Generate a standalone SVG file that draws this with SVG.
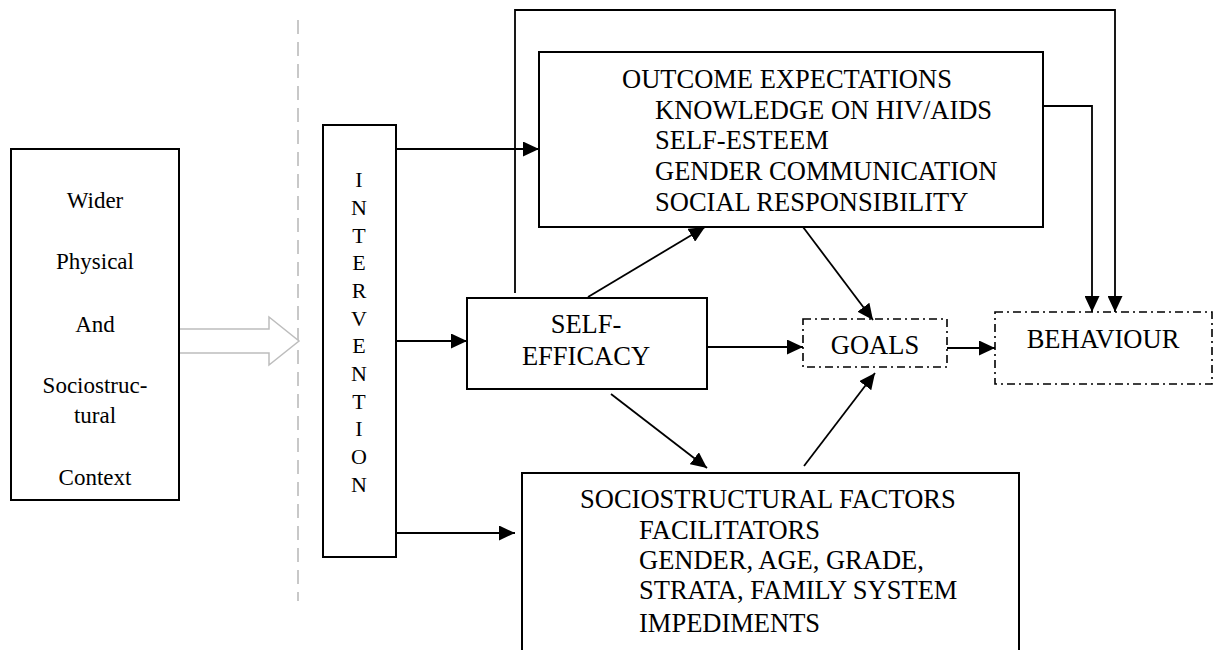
<svg xmlns="http://www.w3.org/2000/svg" width="1216" height="650" viewBox="0 0 1216 650">
<style>
  .box { fill: #ffffff; stroke: #000000; stroke-width: 2; }
  .dd { fill: #ffffff; stroke: #000000; stroke-width: 1.6; stroke-dasharray: 8 4 2 4; }
  .t { font-family: "Liberation Serif", "Times New Roman", serif; fill: #000000; }
  .big { font-size: 26.5px; }
  .mid { font-size: 23px; }
  .iv { font-size: 22px; }
  .line { fill: none; stroke: #000000; stroke-width: 1.8; }
  .arr { fill: none; stroke: #000000; stroke-width: 1.8; marker-end: url(#ah); }
</style>
<defs>
  <marker id="ah" markerUnits="userSpaceOnUse" markerWidth="17" markerHeight="15" refX="16" refY="7.5" orient="auto">
    <path d="M0,0 L16,7.5 L0,15 z" fill="#000000"/>
  </marker>
</defs>
<rect width="1216" height="650" fill="#ffffff"/>

<!-- separator and hollow arrow -->
<g id="separator">
  <line x1="298" y1="20" x2="298" y2="601" stroke="#c8c8c8" stroke-width="2" stroke-dasharray="14 8"/>
</g>
<g id="context-arrow">
  <path d="M179,329 L269,329 L269,317 L299,341 L269,365 L269,353 L179,353" fill="#ffffff" stroke="#bdbdbd" stroke-width="1.5"/>
</g>

<g id="context">
  <rect class="box" x="11" y="149" width="168" height="351"/>
  <text class="t mid" x="95" y="208" text-anchor="middle">Wider</text>
  <text class="t mid" x="95" y="269" text-anchor="middle">Physical</text>
  <text class="t mid" x="95" y="332" text-anchor="middle">And</text>
  <text class="t mid" x="95" y="393" text-anchor="middle">Sociostruc-</text>
  <text class="t mid" x="95" y="423" text-anchor="middle">tural</text>
  <text class="t mid" x="95" y="485" text-anchor="middle">Context</text>
</g>

<g id="intervention">
  <rect class="box" x="323" y="125" width="73" height="432"/>
  <g class="t iv" text-anchor="middle">
    <text x="359" y="187">I</text>
    <text x="359" y="215">N</text>
    <text x="359" y="243">T</text>
    <text x="359" y="270">E</text>
    <text x="359" y="298">R</text>
    <text x="359" y="326">V</text>
    <text x="359" y="353">E</text>
    <text x="359" y="381">N</text>
    <text x="359" y="409">T</text>
    <text x="359" y="436">I</text>
    <text x="359" y="464">O</text>
    <text x="359" y="492">N</text>
  </g>
</g>

<g id="outcome-expectations">
  <rect class="box" x="539" y="52" width="504" height="175"/>
  <text class="t big" x="622" y="88">OUTCOME EXPECTATIONS</text>
  <text class="t big" x="655" y="119">KNOWLEDGE ON HIV/AIDS</text>
  <text class="t big" x="655" y="149">SELF-ESTEEM</text>
  <text class="t big" x="655" y="180">GENDER COMMUNICATION</text>
  <text class="t big" x="655" y="211">SOCIAL RESPONSIBILITY</text>
</g>

<g id="self-efficacy">
  <rect class="box" x="467" y="298" width="240" height="91"/>
  <text class="t big" x="586" y="333" text-anchor="middle">SELF-</text>
  <text class="t big" x="586" y="365" text-anchor="middle">EFFICACY</text>
</g>

<g id="goals">
  <rect class="dd" x="803" y="319" width="144" height="48"/>
  <text class="t big" x="875" y="354" text-anchor="middle">GOALS</text>
</g>

<g id="behaviour">
  <rect class="dd" x="995" y="312" width="217" height="72"/>
  <text class="t big" x="1103" y="348" text-anchor="middle">BEHAVIOUR</text>
</g>

<g id="sociostructural-factors">
  <path class="box" d="M522,660 L522,473 L1019,473 L1019,660"/>
  <text class="t big" x="580" y="508">SOCIOSTRUCTURAL FACTORS</text>
  <text class="t big" x="639" y="539">FACILITATORS</text>
  <text class="t big" x="639" y="569">GENDER, AGE, GRADE,</text>
  <text class="t big" x="639" y="599">STRATA, FAMILY SYSTEM</text>
  <text class="t big" x="639" y="632">IMPEDIMENTS</text>
</g>

<g id="connectors">
  <line class="arr" x1="396" y1="149" x2="539" y2="149"/>
  <line class="arr" x1="396" y1="341" x2="467" y2="341"/>
  <line class="arr" x1="396" y1="533" x2="515" y2="533"/>
  <polyline class="arr" points="515,293 515,10 1115,10 1115,312"/>
  <polyline class="arr" points="1043,106 1092,106 1092,312"/>
  <line class="arr" x1="588" y1="297" x2="705" y2="227"/>
  <line class="arr" x1="803" y1="227" x2="873" y2="320"/>
  <line class="arr" x1="707" y1="347" x2="803" y2="347"/>
  <line class="arr" x1="947" y1="348" x2="995" y2="348"/>
  <line class="arr" x1="611" y1="394" x2="707" y2="468"/>
  <line class="arr" x1="804" y1="466" x2="875" y2="373"/>
</g>
</svg>
